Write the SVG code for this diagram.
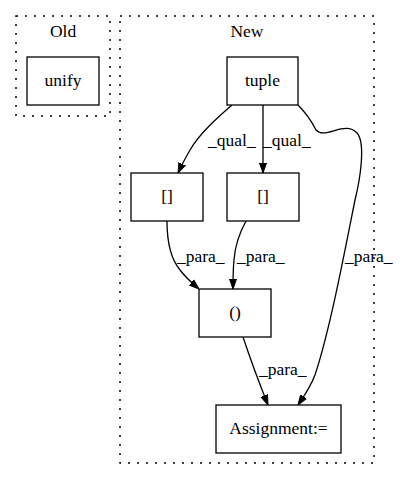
<svg xmlns="http://www.w3.org/2000/svg" width="400" height="480" viewBox="0 0 400 480">
<style>
.cl{fill:none;stroke:#000;stroke-width:1.5;stroke-dasharray:2,7}
.nd{fill:#fff;stroke:#000;stroke-width:1.3}
.e{fill:none;stroke:#000;stroke-width:1.3;marker-end:url(#ah)}
text{font-family:"Liberation Serif","Times New Roman",serif;font-size:17.5px;fill:#000}
.c{text-anchor:middle}
</style>
<defs>
<marker id="ah" markerWidth="10" markerHeight="10" refX="10" refY="5" orient="auto" markerUnits="userSpaceOnUse">
<path d="M0,1.5 L10,5 L0,8.5 Z" fill="#000" stroke="#000"/>
</marker>
</defs>
<g id="cluster_old">
<rect class="cl" x="16" y="16" width="94" height="100"/>
<text class="c" x="63" y="37">Old</text>
</g>
<g id="cluster_new">
<rect class="cl" x="120" y="16" width="254" height="447"/>
<text class="c" x="247" y="37">New</text>
</g>
<g id="edges">
<path class="e" d="M232,105 C217,118 200,133 190,150 C186,157 182,164 178,173"/>
<text x="208" y="146">_qual_</text>
<path class="e" d="M263,105 L263,173"/>
<text x="263" y="146">_qual_</text>
<path class="e" d="M298,105 C305,112 311,120 316,130 C325,140 345,120 357,133 C366,143 360,180 355,200 C345,250 330,330 315,375 C310,388 304,396 298,405"/>
<text x="345" y="262">_para_</text>
<path class="e" d="M167,221 C167,240 170,258 180,270 C186,278 192,283 199,289"/>
<text x="177" y="262">_para_</text>
<path class="e" d="M246,221 C240,232 235,245 234,260 C233,270 233,280 233,289"/>
<text x="237" y="262">_para_</text>
<path class="e" d="M243,337 C250,358 258,380 268,405"/>
<text x="259" y="375">_para_</text>
</g>
<g id="unify">
<rect class="nd" x="27" y="57" width="72" height="48"/>
<text class="c" x="63" y="86">unify</text>
</g>
<g id="tuple">
<rect class="nd" x="227" y="57" width="71" height="48"/>
<text class="c" x="262.5" y="86">tuple</text>
</g>
<g id="idx1">
<rect class="nd" x="131" y="173" width="72" height="48"/>
<text class="c" x="167" y="202">[]</text>
</g>
<g id="idx2">
<rect class="nd" x="227" y="173" width="72" height="48"/>
<text class="c" x="263" y="202">[]</text>
</g>
<g id="call">
<rect class="nd" x="199" y="289" width="72" height="48"/>
<text class="c" x="235" y="318">()</text>
</g>
<g id="assign">
<rect class="nd" x="216" y="405" width="125" height="48"/>
<text class="c" x="278.5" y="434">Assignment:=</text>
</g>
</svg>
